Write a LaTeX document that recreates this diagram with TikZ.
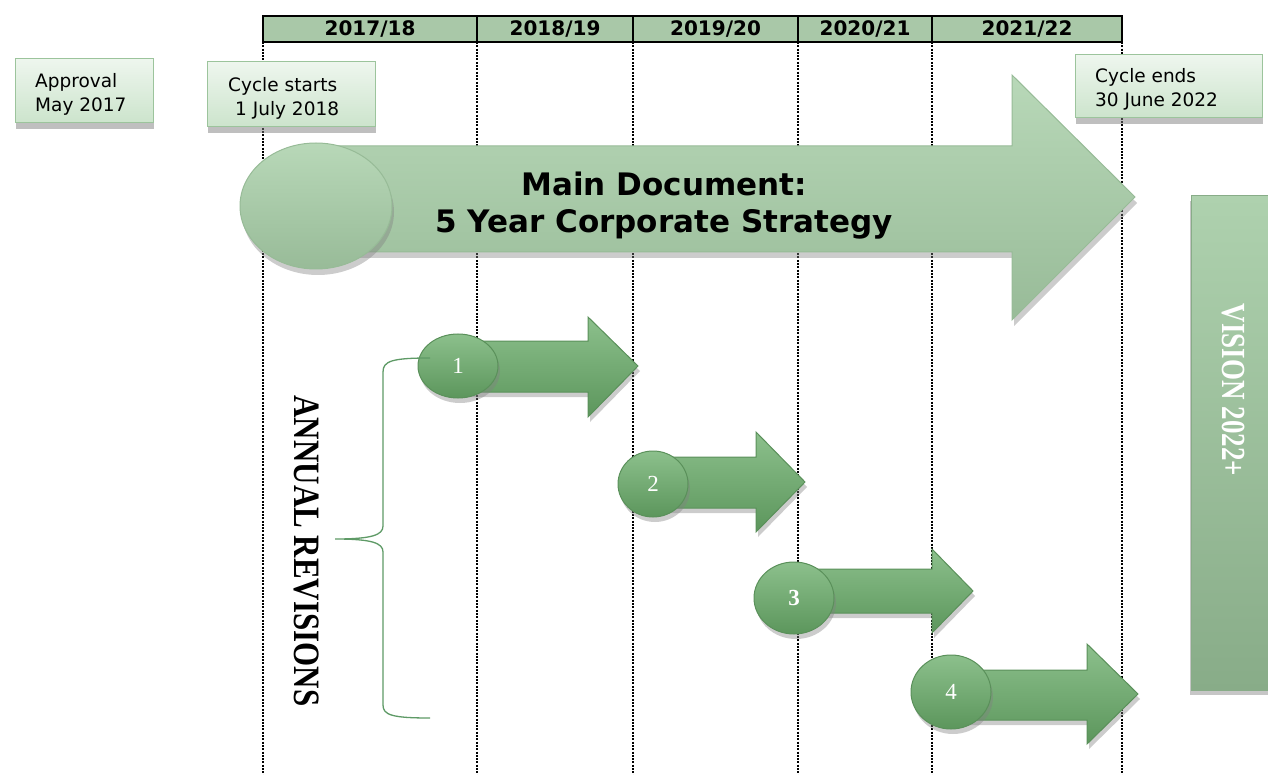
\documentclass[tikz,border=0pt]{standalone}
\usepackage{fontspec}
\setmainfont{DejaVu Sans}
\newfontfamily\tnr{Liberation Serif}
\usetikzlibrary{shadows,shapes.geometric}
\definecolor{hdr}{HTML}{A9C8A8}
\definecolor{boxtop}{HTML}{EEF6EE}
\definecolor{boxbot}{HTML}{CCE4CC}
\definecolor{boxline}{HTML}{9CC49C}
\definecolor{maintop}{HTML}{B8D8B8}
\definecolor{mainbot}{HTML}{98BB98}
\definecolor{mainline}{HTML}{97BB97}
\definecolor{revtop}{HTML}{8CC08C}
\definecolor{revbot}{HTML}{5C965C}
\definecolor{revline}{HTML}{5A905A}
\definecolor{brace}{HTML}{5E9A66}
\definecolor{vistop}{HTML}{AED1AE}
\definecolor{visbot}{HTML}{88AC88}
\tikzset{
  grid/.style={draw=black,line width=1.4pt,dash pattern=on 2pt off 1.3pt},
  hcell/.style={draw=black,line width=2pt,fill=hdr,inner sep=0pt,font=\bfseries\fontsize{20}{20}\selectfont},
  notebox/.style={draw=boxline,line width=1pt,top color=boxtop,bottom color=boxbot,inner sep=0pt,
     drop shadow={opacity=0.5,shadow xshift=1pt,shadow yshift=-6pt}},
  notetext/.style={inner sep=0pt,anchor=base west,font=\fontsize{18.5}{24}\selectfont},
  mainshape/.style={draw=mainline,line width=1pt,top color=maintop,bottom color=mainbot,
     drop shadow={opacity=0.4,shadow xshift=2pt,shadow yshift=-6pt}},
  revshape/.style={draw=revline,line width=1pt,top color=revtop,bottom color=revbot,
     drop shadow={opacity=0.4,shadow xshift=2pt,shadow yshift=-5pt}},
  revnum/.style={text=white,font=\tnr\fontsize{23}{23}\selectfont,inner sep=0pt},
  maintext/.style={inner sep=0pt,anchor=base,font=\bfseries\fontsize{31}{31}\selectfont}
}
\begin{document}
\begin{tikzpicture}[x=1pt,y=-1pt]
\useasboundingbox (0,0) rectangle (1268,775);
% grid lines
\foreach \gx in {263,477,633,798,932,1122}{
  \draw[grid] (\gx,42) -- (\gx,775);
}
% header
\node[hcell,minimum width=214pt,minimum height=26pt] (y1) at (370,29) {2017/18};
\node[hcell,minimum width=156pt,minimum height=26pt] (y2) at (555,29) {2018/19};
\node[hcell,minimum width=165pt,minimum height=26pt] (y3) at (715.5,29) {2019/20};
\node[hcell,minimum width=134pt,minimum height=26pt] (y4) at (865,29) {2020/21};
\node[hcell,minimum width=190pt,minimum height=26pt] (y5) at (1027,29) {2021/22};
% note boxes
\node[notebox,minimum width=138pt,minimum height=64pt] (appr) at (84,91) {};
\node[notetext] (appr1) at (35,88) {Approval};
\node[notetext] (appr2) at (35,112) {May 2017};
\node[notebox,minimum width=168pt,minimum height=65pt] (cstart) at (291,94.5) {};
\node[notetext] (cs1) at (228,92) {Cycle starts};
\node[notetext] (cs2) at (235,116) {1 July 2018};
\node[notebox,minimum width=187pt,minimum height=63pt] (cend) at (1168.5,86.5) {};
\node[notetext] (ce1) at (1095,83) {Cycle ends};
\node[notetext] (ce2) at (1095,107) {30 June 2022};
% main arrow
\path[mainshape] (330,146) -- (1012,146) -- (1012,75) -- (1135,197) -- (1012,320) -- (1012,252) -- (330,252) -- cycle;
\node[mainshape,ellipse,minimum width=152pt,minimum height=126pt,inner sep=0pt] (emain) at (316,206) {};
\node[maintext] (mt1) at (664,196) {Main Document:};
\node[maintext] (mt2) at (664,233) {5 Year Corporate Strategy};
% revision arrows
\path[revshape] (458,341) -- (588,341) -- (588,317) -- (638,366) -- (588,417) -- (588,392) -- (458,392) -- cycle;
\node[revshape,ellipse,minimum width=80pt,minimum height=64pt,inner sep=0pt] (e1) at (458,366) {};
\node[revnum] at (e1) {1};
\path[revshape] (653,457) -- (756,457) -- (756,432) -- (805,482) -- (756,532) -- (756,508) -- (653,508) -- cycle;
\node[revshape,ellipse,minimum width=70pt,minimum height=66pt,inner sep=0pt] (e2) at (653,484) {};
\node[revnum] at (e2) {2};
\path[revshape] (794,569) -- (932,569) -- (932,549) -- (973,591) -- (932,633) -- (932,613) -- (794,613) -- cycle;
\node[revshape,ellipse,minimum width=80pt,minimum height=72pt,inner sep=0pt] (e3) at (794,598) {};
\node[revnum,font=\tnr\bfseries\fontsize{23}{23}\selectfont] at (e3) {3};
\path[revshape] (951,670) -- (1087,670) -- (1087,644) -- (1138,694) -- (1087,744) -- (1087,720) -- (951,720) -- cycle;
\node[revshape,ellipse,minimum width=80pt,minimum height=74pt,inner sep=0pt] (e4) at (951,692) {};
\node[revnum] at (e4) {4};
% brace
\coordinate (btop) at (430,358);
\coordinate (btip) at (335,539);
\coordinate (bbot) at (430,718);
\draw[brace,line width=1.3pt] (btop) .. controls (392,358) and (383,361) .. (383,372) -- (383,526)
   .. controls (383,535) and (372,539) .. (btip)
   .. controls (372,539) and (383,543) .. (383,552) -- (383,705)
   .. controls (383,715) and (392,718) .. (bbot);
\node[rotate=-90,inner sep=0pt,font=\tnr\bfseries\fontsize{31}{31}\selectfont] (annual) at (307,551) {\scalebox{1}[1.2]{ANNUAL REVISIONS}};
% vision box
\node[draw=visbot,line width=1pt,top color=vistop,bottom color=visbot,minimum width=80pt,minimum height=494pt,inner sep=0pt,
  drop shadow={opacity=0.45,shadow xshift=-1pt,shadow yshift=-5pt}] (vision) at (1231,443) {};
\node[rotate=-90,inner sep=0pt,text=white,font=\tnr\bfseries\fontsize{27}{27}\selectfont] (vtext) at (1233,390) {\scalebox{1}[1.25]{VISION 2022+}};
\end{tikzpicture}
\end{document}
